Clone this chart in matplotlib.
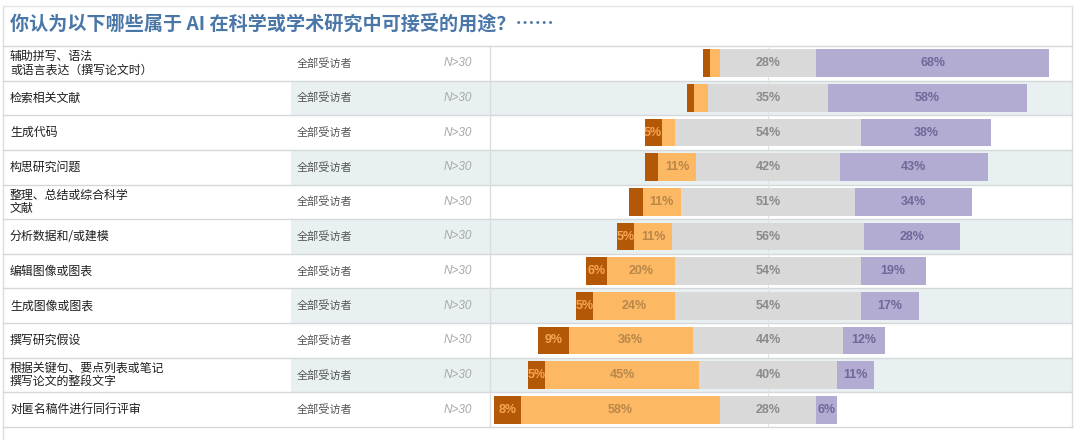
import numpy as np
import matplotlib
matplotlib.use("Agg")
import matplotlib.pyplot as plt
from matplotlib.patches import Rectangle

plt.rcParams['font.family'] = ['Noto Sans CJK SC', 'DejaVu Sans']

# data
title = "你认为以下哪些属于 AI 在科学或学术研究中可接受的用途？……"
uses = [
    "辅助拼写、语法\n或语言表达（撰写论文时）",
    "检索相关文献",
    "生成代码",
    "构思研究问题",
    "整理、总结或综合科学\n文献",
    "分析数据和/或建模",
    "编辑图像或图表",
    "生成图像或图表",
    "撰写研究假设",
    "根据关键句、要点列表或笔记\n撰写论文的整段文字",
    "对匿名稿件进行同行评审",
]
group = "全部受访者"
n_label = "N>30"
dark_orange = [2, 2, 5, 4, 4, 5, 6, 5, 9, 5, 8]
light_orange = [3, 4, 4, 11, 11, 11, 20, 24, 36, 45, 58]
grey = [28, 35, 54, 42, 51, 56, 54, 54, 44, 40, 28]
purple = [68, 58, 38, 43, 34, 28, 19, 17, 12, 11, 6]

colors = ['#b35806', '#fdb863', '#d9d9d9', '#b2abd2']
text_colors = ['#f6a552', '#b8874a', '#8a8a8a', '#6f6899']

W, H = 1080, 440
fig = plt.figure(figsize=(W / 100, H / 100), dpi=100)

# background axes in pixel coords for the table frame
bg = fig.add_axes([0, 0, 1, 1])
bg.set_xlim(0, W)
bg.set_ylim(H, 0)
bg.axis('off')

top, bottom = 46, 427
n = len(uses)
rh = (bottom - top) / n
x_left, x_mid, x_bar, x_right = 3, 291, 490, 1072

# frame
bg.plot([x_left, x_left], [6, H], color='#dcdcdc', lw=1)
bg.plot([x_right, x_right], [6, bottom], color='#dcdcdc', lw=1)
bg.plot([x_left, x_right], [6, 6], color='#e4e4e4', lw=1)

for i in range(n):
    y0 = top + i * rh
    if i % 2 == 1:
        bg.add_patch(Rectangle((x_mid, y0), x_right - x_mid, rh,
                               color='#e8f0f2', lw=0))
    bg.plot([x_left, x_right], [y0, y0], color='#d5d8da', lw=1)
    yc = y0 + rh / 2
    bg.text(10, yc, uses[i], fontsize=8.6, color='#1e1e1e', va='center',
            ha='left', linespacing=1.0)
    bg.text(297, yc, group, fontsize=8, color='#555555', va='center', ha='left')
    bg.text(472, yc, n_label, fontsize=8.5, color='#a8a8a8', va='center',
            ha='right', style='italic', family=['Liberation Sans'])
bg.plot([x_left, x_right], [bottom, bottom], color='#d5d8da', lw=1)
bg.plot([x_bar, x_bar], [top, bottom], color='#dcdcdc', lw=1)

bg.text(10, 24, title, fontsize=13.75, color='#4a77a8', fontweight='bold',
        va='center', ha='left')

# diverging bars
ax = fig.add_axes([x_bar / W, 1 - bottom / H, (x_right - x_bar) / W,
                   (bottom - top) / H])
ax.patch.set_alpha(0)
scale = 3.43  # px per percent
zero_px = 768
ax.set_xlim(-(zero_px - x_bar) / scale, (x_right - zero_px) / scale)
ax.set_ylim(n - 0.5, -0.5)
ax.axis('off')
ax.axvline(0, color='#e2e2e2', lw=0.8, zorder=0)

series = [np.array(dark_orange), np.array(light_orange), np.array(grey),
          np.array(purple)]
y = np.arange(n)
left = -(series[0] + series[1] + series[2] / 2.0)
for vals, c, tc in zip(series, colors, text_colors):
    ax.barh(y, vals, left=left, height=0.8, color=c, lw=0, clip_on=False,
            zorder=2)
    for yi, v, l in zip(y, vals, left):
        if v >= 5:
            ax.text(l + v / 2, yi, f"{v}%", ha='center', va='center',
                    fontsize=9, color=tc, fontweight='bold',
                    family=['Liberation Sans'], zorder=3)
    left = left + vals

fig.savefig("out.png", dpi=100)
